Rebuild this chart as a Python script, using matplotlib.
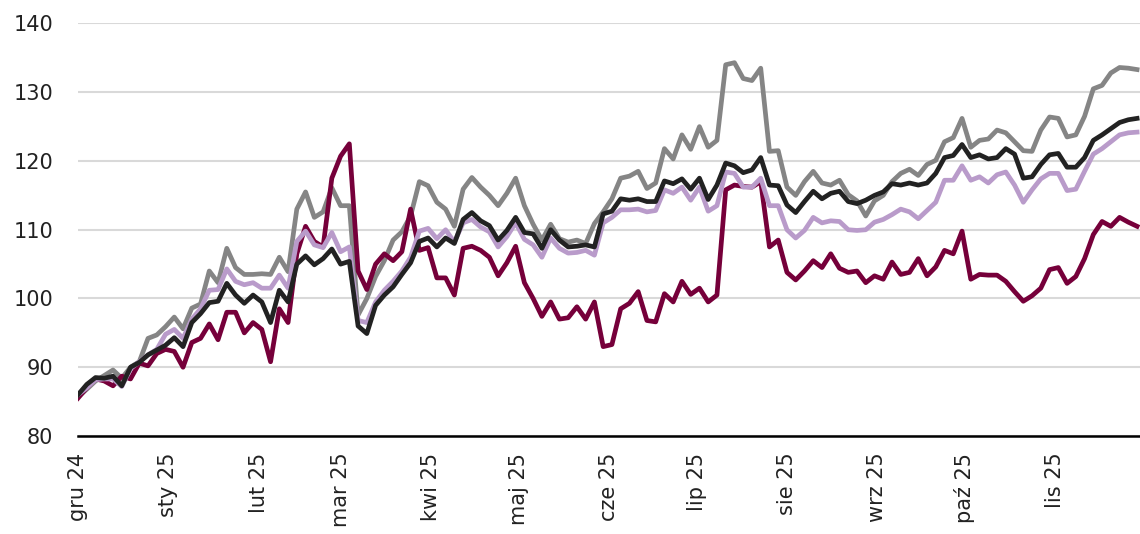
import matplotlib.pyplot as plt
import matplotlib.dates as mdates
import pandas as pd

# one reading every 3 days, Dec 2024 - Nov 2025
dates = pd.date_range("2024-12-01", periods=122, freq="3D")

grey_vals = [85.7, 86.8, 88, 88.8, 89.6, 88.4, 90, 90.8, 94.2, 94.7,
             95.9, 97.3, 95.6, 98.6, 99.2, 104, 102.3, 107.3, 104.5, 103.5,
             103.5, 103.6, 103.5, 106, 103.9, 113, 115.5, 111.8, 112.6, 116.1,
             113.5, 113.5, 97.6, 100, 103.2, 105.5, 108.5, 109.7, 112, 117,
             116.4, 114, 113, 110.5, 115.9, 117.6, 116.2, 115, 113.5, 115.3,
             117.5, 113.5, 110.8, 108.5, 110.8, 108.7, 108.2, 108.5, 108, 110.9,
             112.6, 114.5, 117.5, 117.8, 118.5, 116, 116.8, 121.8, 120.3, 123.8,
             121.7, 125, 122, 123, 134, 134.3, 132, 131.7, 133.5, 121.4,
             121.5, 116.2, 115, 117, 118.5, 116.8, 116.5, 117.2, 115.1, 114.2,
             112, 114.2, 115, 117, 118.2, 118.8, 117.9, 119.5, 120.1, 122.8,
             123.4, 126.2, 122, 123, 123.2, 124.5, 124.1, 122.8, 121.5, 121.4,
             124.5, 126.4, 126.2, 123.5, 123.8, 126.5, 130.5, 131, 132.8, 133.6,
             133.5, 133.3]

maroon_vals = [85.5, 87, 88.3, 88, 87.3, 88.7, 88.3, 90.6, 90.2, 92,
               92.6, 92.3, 90, 93.6, 94.2, 96.3, 94, 98, 98, 95,
               96.5, 95.5, 90.8, 98.5, 96.5, 106.5, 110.5, 108.3, 107.5, 117.5,
               120.7, 122.5, 104, 101.3, 105, 106.5, 105.5, 106.8, 113, 107,
               107.4, 103, 103, 100.5, 107.3, 107.6, 107, 106, 103.3, 105.2,
               107.6, 102.3, 100, 97.4, 99.5, 97, 97.2, 98.8, 97, 99.5,
               93, 93.3, 98.5, 99.3, 101, 96.8, 96.6, 100.7, 99.5, 102.5,
               100.6, 101.5, 99.5, 100.5, 115.8, 116.5, 116.3, 116.2, 117, 107.5,
               108.5, 103.8, 102.7, 104, 105.5, 104.5, 106.5, 104.4, 103.8, 104,
               102.3, 103.3, 102.8, 105.3, 103.5, 103.8, 105.8, 103.3, 104.6, 107,
               106.5, 109.8, 102.8, 103.5, 103.4, 103.4, 102.5, 101, 99.6, 100.4,
               101.5, 104.2, 104.5, 102.2, 103.2, 105.8, 109.3, 111.2, 110.5, 111.8,
               111.1, 110.5]

purple_vals = [86, 87, 88.2, 88.3, 88.3, 87.2, 89.8, 90.8, 91.8, 92.6,
               94.8, 95.5, 94.2, 97, 98.5, 101.2, 101.3, 104.3, 102.5, 102,
               102.3, 101.5, 101.5, 103.4, 101.5, 108.3, 109.8, 107.8, 107.4, 109.6,
               106.8, 107.5, 96.8, 96.5, 99.5, 101.2, 102.5, 104, 106, 109.8,
               110.2, 108.7, 110, 108.2, 111, 111.5, 110.4, 109.7, 107.5, 109,
               111, 108.6, 107.8, 106, 108.8, 107.3, 106.6, 106.7, 107, 106.3,
               111, 111.8, 112.9, 112.9, 113, 112.6, 112.8, 115.8, 115.3, 116.2,
               114.3, 116.2, 112.7, 113.5, 118.4, 118.2, 116.2, 116.2, 117.5, 113.5,
               113.5, 110, 108.8, 109.9, 111.8, 111, 111.3, 111.2, 110, 109.9,
               110, 111.1, 111.5, 112.2, 113, 112.6, 111.6, 112.8, 114, 117.2,
               117.2, 119.3, 117.2, 117.7, 116.8, 118, 118.4, 116.5, 114, 115.8,
               117.4, 118.2, 118.2, 115.7, 115.9, 118.5, 121, 121.8, 122.8, 123.8,
               124.1, 124.2]

black_vals = [86, 87.5, 88.5, 88.4, 88.7, 87.3, 90, 90.7, 91.8, 92.5,
              93.2, 94.3, 93, 96.5, 97.8, 99.4, 99.6, 102.2, 100.5, 99.3,
              100.5, 99.5, 96.5, 101.2, 99.5, 105, 106.2, 104.9, 105.8, 107.2,
              105, 105.4, 96, 94.9, 99, 100.5, 101.7, 103.5, 105.2, 108.3,
              108.8, 107.5, 108.8, 108, 111.5, 112.5, 111.3, 110.6, 108.5, 109.9,
              111.8, 109.6, 109.4, 107.3, 110, 108.5, 107.5, 107.6, 107.8, 107.5,
              112.3, 112.7, 114.5, 114.3, 114.5, 114.1, 114.1, 117.1, 116.7, 117.4,
              115.9, 117.5, 114.4, 116.5, 119.7, 119.3, 118.3, 118.7, 120.5, 116.5,
              116.4, 113.6, 112.5, 114.1, 115.6, 114.5, 115.3, 115.6, 114.1, 113.8,
              114.3, 115, 115.5, 116.7, 116.5, 116.8, 116.5, 116.8, 118.2, 120.5,
              120.8, 122.4, 120.5, 120.9, 120.3, 120.5, 121.8, 121, 117.5, 117.7,
              119.5, 120.9, 121.1, 119.1, 119.1, 120.5, 123, 123.8, 124.7, 125.6,
              126, 126.2]

month_labels = ["gru 24", "sty 25", "lut 25", "mar 25", "kwi 25", "maj 25",
                "cze 25", "lip 25", "sie 25", "wrz 25", "paź 25", "lis 25"]

W, H = 1140, 534
fig = plt.figure(figsize=(W / 100, H / 100), dpi=100)
ax = fig.add_axes([78 / W, 1 - 436 / H, 1 - 78 / W, (436 - 23.5) / H])

lw = 3.4
ax.plot(dates, grey_vals, color="#858585", lw=lw, zorder=3)
ax.plot(dates, maroon_vals, color="#76003a", lw=lw, zorder=4)
ax.plot(dates, purple_vals, color="#b99bca", lw=lw, zorder=5)
ax.plot(dates, black_vals, color="#222222", lw=lw, zorder=6)

ax.set_ylim(80, 140)
ax.set_yticks(range(80, 141, 10))
ax.set_xlim(pd.Timestamp("2024-12-01"), pd.Timestamp("2025-11-30"))

ticks = pd.date_range("2024-12-01", periods=len(month_labels), freq="MS")
ax.set_xticks(ticks)
ax.set_xticklabels(month_labels, rotation=90, va="top", ha="center")

ax.grid(axis="y", color="#d9d9d9", lw=1.5)
ax.set_axisbelow(True)
for side in ["top", "right", "left"]:
    ax.spines[side].set_visible(False)
ax.spines["bottom"].set_color("black")
ax.spines["bottom"].set_linewidth(1.8)
ax.spines["bottom"].set_zorder(7)

ax.tick_params(axis="y", length=0, pad=18, labelsize=15, labelcolor="#222222")
ax.tick_params(axis="x", length=0, pad=12, labelsize=15, labelcolor="#222222")

fig.savefig("out.png", dpi=100)
